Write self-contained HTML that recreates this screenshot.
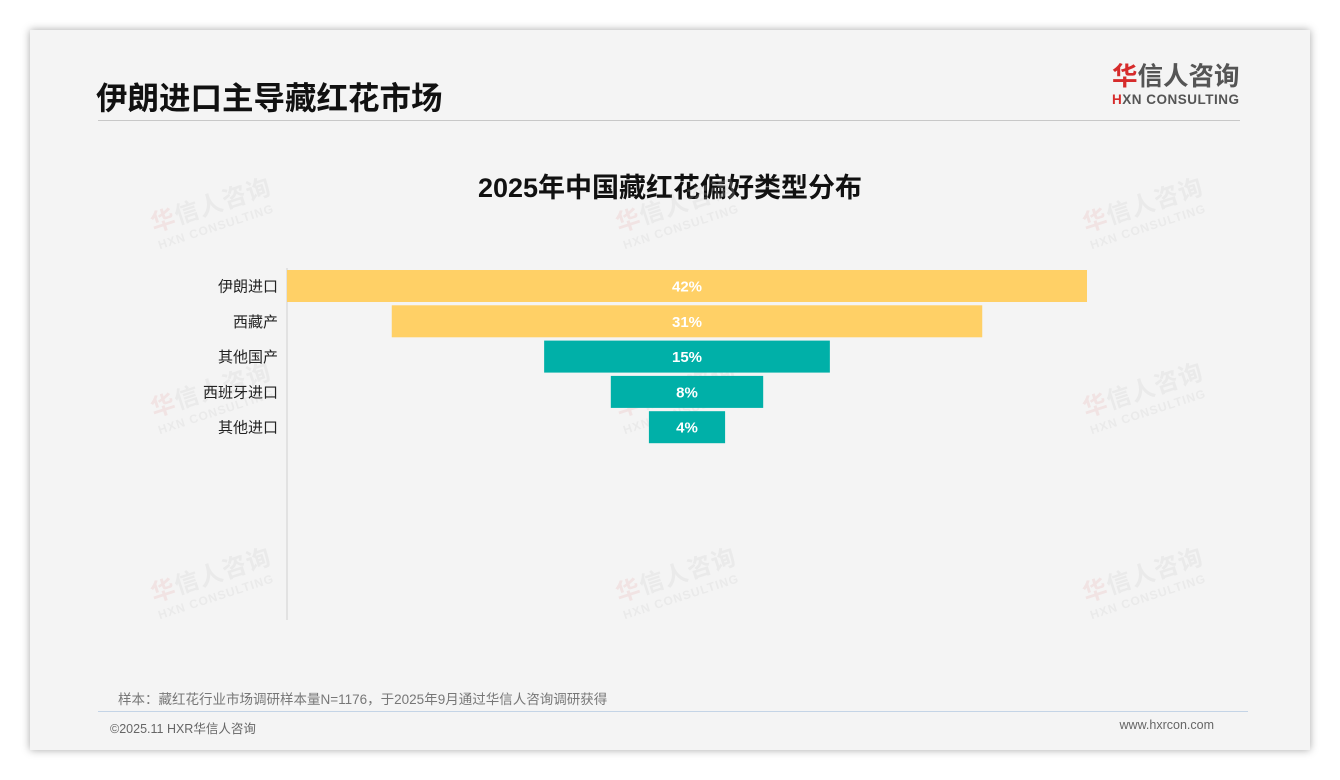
<!DOCTYPE html>
<html><head><meta charset="utf-8">
<style>
body{margin:0;width:1340px;height:780px;background:#fff;font-family:"Liberation Sans","Noto Sans CJK SC",sans-serif;overflow:hidden;position:relative}
#card{position:absolute;left:30px;top:30px;width:1280px;height:720px;background:#f4f4f4;box-shadow:0 0 8px rgba(0,0,0,0.35)}
.wm{position:absolute;transform:rotate(-18deg);color:rgba(200,200,200,0.22);font-weight:bold;pointer-events:none}
.wm .a{font-size:24px;letter-spacing:1px}.wm .a span{color:rgba(230,150,150,0.18)}
.wm .b{font-size:12px;letter-spacing:1px}
</style></head><body>
<div id="card">
<div style="position:absolute;left:66px;top:43px;font-size:31.5px;font-weight:bold;color:#111">伊朗进口主导藏红花市场</div>
<div style="position:absolute;left:1082px;top:33px;text-align:left">
<div style="font-size:25.5px;font-weight:bold;color:#555;line-height:29px"><span style="color:#d62b2b">华</span>信人咨询</div>
<div style="font-size:13.5px;font-weight:bold;color:#555;letter-spacing:0.5px"><span style="color:#d62b2b">H</span>XN CONSULTING</div>
</div>
<div style="position:absolute;left:68px;top:90px;width:1142px;height:1px;background:#c8c8c8"></div>
<div style="position:absolute;left:0;width:1280px;top:136px;text-align:center;font-size:27px;font-weight:bold;color:#111">2025年中国藏红花偏好类型分布</div>
<div style="position:absolute;left:88px;top:658px;font-size:13.5px;color:#777">样本：藏红花行业市场调研样本量N=1176，于2025年9月通过华信人咨询调研获得</div>
<div style="position:absolute;left:68px;top:681px;width:1150px;height:1px;background:#c4d4e6"></div>
<div style="position:absolute;left:80px;top:688px;font-size:12.5px;color:#666">©2025.11 HXR华信人咨询</div>
<div style="position:absolute;right:96px;top:688px;font-size:12.5px;color:#666">www.hxrcon.com</div>
</div>
<div id="wms"></div>
<svg id="chart" width="1340" height="780" style="position:absolute;left:0;top:0"></svg>
<script>
const categories=["伊朗进口","西藏产","其他国产","西班牙进口","其他进口"];
const values=[42,31,15,8,4];
const labels=["42%","31%","15%","8%","4%"];
const colors=["#ffd066","#ffd066","#00b0a8","#00b0a8","#00b0a8"];
const svg=document.getElementById('chart');
const NS='http://www.w3.org/2000/svg';
const cx=687, unit=800/42, top0=270, pitch=35.3, bh=32;
const xw=v=>v*unit, yb=i=>top0+i*pitch;
const ax=document.createElementNS(NS,'line');
ax.setAttribute('x1',287);ax.setAttribute('x2',287);ax.setAttribute('y1',268);ax.setAttribute('y2',620);
ax.setAttribute('stroke','#d0d0d0');ax.setAttribute('stroke-width',1);


svg.appendChild(ax);
categories.forEach((c,i)=>{
 const w=xw(values[i]);
 const r=document.createElementNS(NS,'rect');
 r.setAttribute('x',cx-w/2);r.setAttribute('y',yb(i));r.setAttribute('width',w);r.setAttribute('height',bh);r.setAttribute('fill',colors[i]);
 
 
 svg.appendChild(r);
 const t=document.createElementNS(NS,'text');
 t.setAttribute('x',cx);t.setAttribute('y',yb(i)+bh/2+5.5);t.setAttribute('text-anchor','middle');t.setAttribute('fill','#fff');t.setAttribute('font-weight','bold');t.setAttribute('font-size','15');
 t.textContent=labels[i];
 
 
 svg.appendChild(t);
 const l=document.createElementNS(NS,'text');
 l.setAttribute('x',278);l.setAttribute('y',yb(i)+bh/2+5.5);l.setAttribute('text-anchor','end');l.setAttribute('fill','#222');l.setAttribute('font-size','15');
 l.textContent=c;
 
 
 svg.appendChild(l);
});
const wms=document.getElementById('wms');
[[150,185],[615,185],[1082,185],[150,370],[615,370],[1082,370],[150,555],[615,555],[1082,555]].forEach(p=>{
 const d=document.createElement('div');d.className='wm';d.style.left=p[0]+'px';d.style.top=p[1]+'px';
 
 
 d.innerHTML='<div class="a"><span>华</span>信人咨询</div><div class="b">HXN CONSULTING</div>';
 wms.appendChild(d);
});
</script>
</body></html>
